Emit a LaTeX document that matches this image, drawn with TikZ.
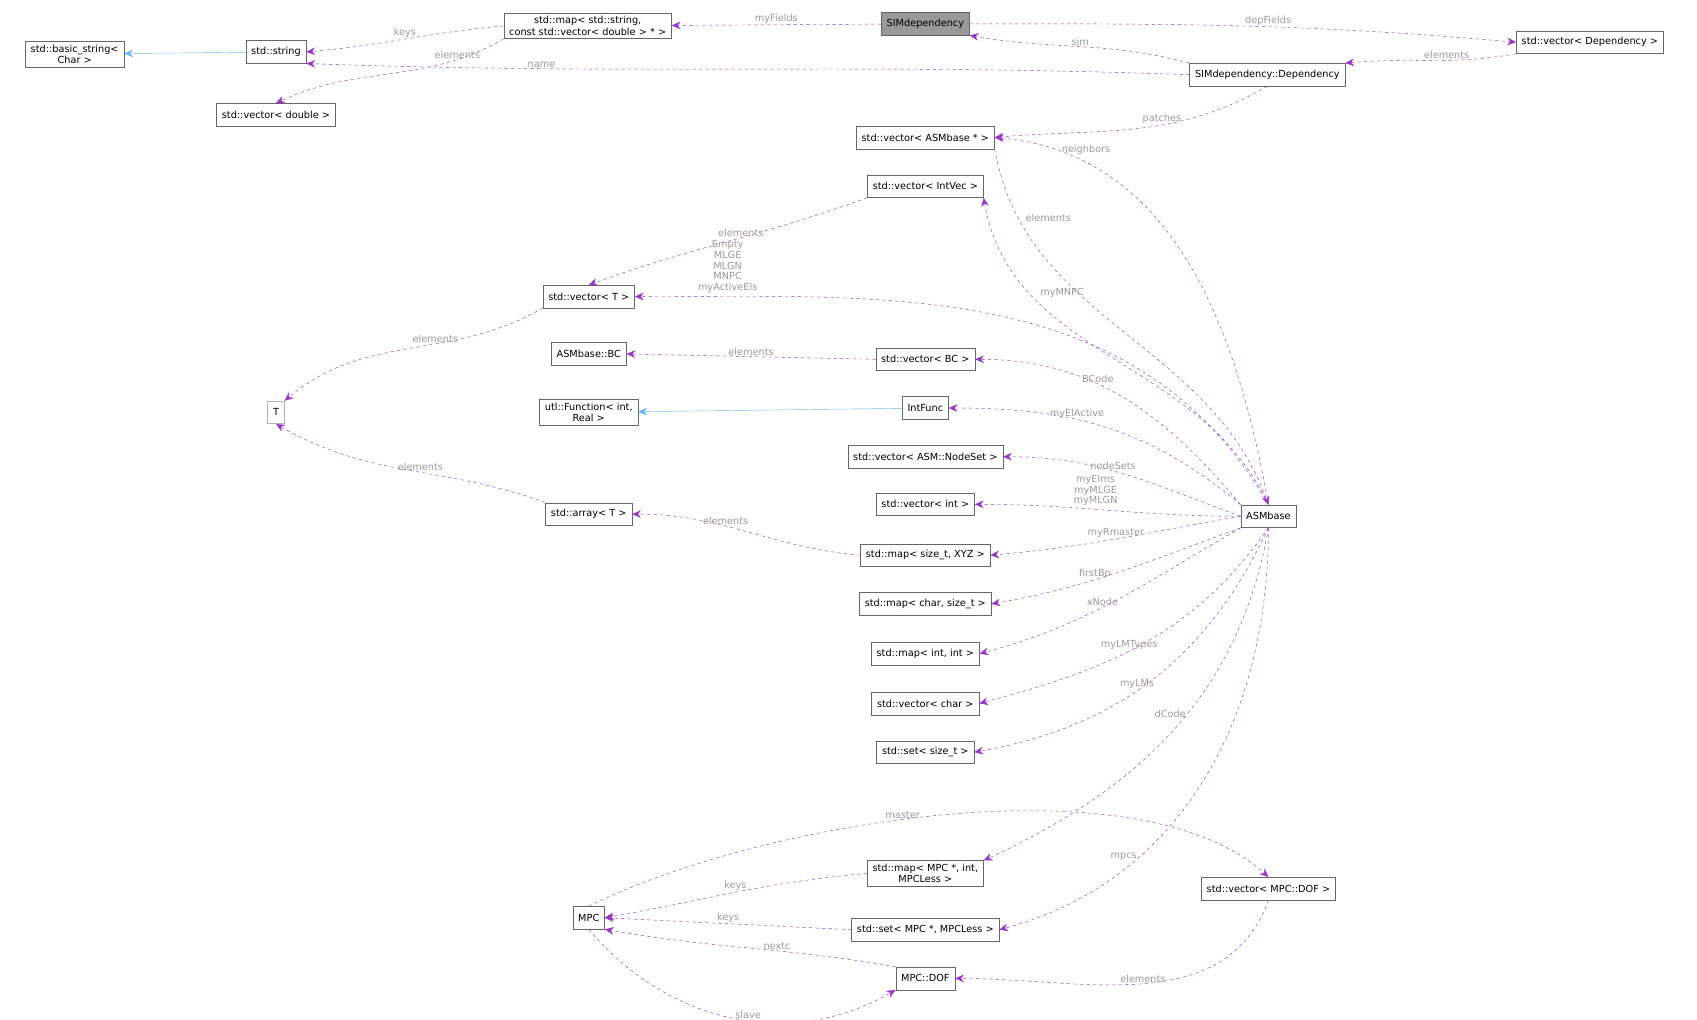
\documentclass[tikz,border=0pt]{standalone}
\usepackage{fontspec}
\setmainfont{DejaVu Sans}
\usetikzlibrary{arrows.meta}
\definecolor{edgepurple}{HTML}{9A32CD}
\definecolor{lblgray}{HTML}{9A9A9A}
\definecolor{inhblue}{HTML}{63B8FF}
\tikzset{
  cls/.style={rectangle, draw=black!60, fill=white, font=\fontsize{9}{10.5}\selectfont, inner xsep=5pt, inner ysep=3pt, minimum height=21pt, align=center},
  uses/.style={draw=edgepurple, dashed, -{Stealth[length=8pt,width=7pt]}},
  inh/.style={draw=inhblue, -{Stealth[length=8pt,width=7pt,open,fill=inhblue]}},
  lbl/.style={text=lblgray, font=\fontsize{9}{10}\selectfont, align=center, inner sep=1pt}
}
\begin{document}
\begin{tikzpicture}[x=1pt, y=1pt]
    \useasboundingbox (0,0) rectangle (1568,-942);
    % classes
    \node [cls] (basicstring) at (69,-50) {std::basic\_string\textless\\ Char \textgreater};
    \node [cls] (string) at (255,-48) {std::string};
    \node [cls] (map) at (543,-24) {std::map\textless{} std::string,\\ const std::vector\textless{} double \textgreater{} * \textgreater};
    \node [cls] (vecdouble) at (255,-106) {std::vector\textless{} double \textgreater};
    \node [cls, fill=black!40] (simdep) at (855,-22) {SIMdependency};
    \node [cls] (dependency) at (1171,-69) {SIMdependency::Dependency};
    \node [cls] (vecdep) at (1469,-39) {std::vector\textless{} Dependency \textgreater};
    \node [cls] (vecasm) at (855,-127) {std::vector\textless{} ASMbase * \textgreater};
    \node [cls] (vecintvec) at (855,-172) {std::vector\textless{} IntVec \textgreater};
    \node [cls] (vect) at (544,-274) {std::vector\textless{} T \textgreater};
    \node [cls] (bc) at (544,-327) {ASMbase::BC};
    \node [cls] (vecbc) at (855,-332) {std::vector\textless{} BC \textgreater};
    \node [cls] (func) at (544,-381) {utl::Function\textless{} int,\\ Real \textgreater};
    \node [cls] (intfunc) at (855,-377) {IntFunc};
    \node [cls, draw=black!30] (t) at (255,-381) {T};
    \node [cls] (vecnodeset) at (855,-422) {std::vector\textless{} ASM::NodeSet \textgreater};
    \node [cls] (vecint) at (855,-466) {std::vector\textless{} int \textgreater};
    \node [cls] (array) at (544,-475) {std::array\textless{} T \textgreater};
    \node [cls] (mapxyz) at (855,-513) {std::map\textless{} size\_t, XYZ \textgreater};
    \node [cls] (asmbase) at (1172,-477) {ASMbase};
    \node [cls] (mapchar) at (855,-558) {std::map\textless{} char, size\_t \textgreater};
    \node [cls] (mapint) at (855,-604) {std::map\textless{} int, int \textgreater};
    \node [cls] (vecchar) at (855,-650) {std::vector\textless{} char \textgreater};
    \node [cls] (setsize) at (855,-695) {std::set\textless{} size\_t \textgreater};
    \node [cls] (mapmpc) at (855,-807) {std::map\textless{} MPC *, int,\\ MPCLess \textgreater};
    \node [cls] (vecdof) at (1172,-821) {std::vector\textless{} MPC::DOF \textgreater};
    \node [cls] (mpc) at (544,-848) {MPC};
    \node [cls] (setmpc) at (855,-859) {std::set\textless{} MPC *, MPCLess \textgreater};
    \node [cls] (dof) at (855,-904) {MPC::DOF};

    % inheritance
    \draw [inh] (string) -- (basicstring);
    \draw [inh] (intfunc) -- (func);

    % upper part
    \draw [uses] (simdep) -- node [lbl, above] {myFields} (map);
    \draw [uses] (simdep.east) to[out=0, in=175] node [lbl, above, pos=0.55] {depFields} (vecdep.west);
    \draw [uses] (vecdep.south west) to[out=-170, in=5] node [lbl, above, pos=0.4] {elements} (dependency.north east);
    \draw [uses] (dependency.north west) to[out=165, in=-10] node [lbl, above] {sim} (simdep.south east);
    \draw [uses] (dependency.west) to[out=178, in=-2] node [lbl, above, pos=0.75] {name} (string.south east);
    \draw [uses] (dependency.south) to[out=-150, in=5] node [lbl, above, pos=0.4] {patches} (vecasm.east);
    \draw [uses] (map.west) to[out=185, in=5] node [lbl, above] {keys} (string.east);
    \draw [uses] (map.south west) to[out=-150, in=25] node [lbl, above, pos=0.2] {elements} (vecdouble.north);

    % ASMbase members
    \draw [uses] (asmbase.north) to[out=100, in=-5] node [lbl, pos=0.88, right=6pt] {neighbors} (vecasm.east);
    \draw [uses] (vecasm.south east) to[out=-80, in=110] node [lbl, pos=0.15, right=6pt] {elements} (asmbase.north);
    \draw [uses] (asmbase.north) to[out=115, in=-80] node [lbl, pos=0.75, right=8pt] {myMNPC} (vecintvec.south east);
    \draw [uses] (vecintvec.south west) to[out=-160, in=20] node [lbl, above, pos=0.45] {elements} (vect.north);
    \draw [uses] (asmbase.north) to[out=120, in=0] node [lbl, pos=0.88, above=2pt] {Empty\\MLGE\\MLGN\\MNPC\\myActiveEls} (vect.east);
    \draw [uses] (vect.south west) to[out=-150, in=40] node [lbl, above, pos=0.4] {elements} (t.north east);
    \draw [uses] (vecbc.west) -- node [lbl, above] {elements} (bc.east);
    \draw [uses] (asmbase.north west) to[out=130, in=0] node [lbl, above, pos=0.6] {BCode} (vecbc.east);
    \draw [uses] (asmbase.north west) to[out=140, in=0] node [lbl, above, pos=0.6] {myElActive} (intfunc.east);
    \draw [uses] (asmbase.west) to[out=160, in=0] node [lbl, above, pos=0.55] {nodeSets} (vecnodeset.east);
    \draw [uses] (asmbase.west) to[out=180, in=0] node [lbl, above=2pt, pos=0.55] {myElms\\myMLGE\\myMLGN} (vecint.east);
    \draw [uses] (array.north west) to[out=160, in=-30] node [lbl, above, pos=0.45] {elements} (t.south);
    \draw [uses] (mapxyz.west) to[out=175, in=0] node [lbl, above, pos=0.6] {elements} (array.east);
    \draw [uses] (asmbase.west) to[out=190, in=5] node [lbl, above, pos=0.5] {myRmaster} (mapxyz.east);
    \draw [uses] (asmbase.south west) to[out=200, in=10] node [lbl, above, pos=0.6] {firstBp} (mapchar.east);
    \draw [uses] (asmbase.south west) to[out=210, in=15] node [lbl, above, pos=0.55] {xNode} (mapint.east);
    \draw [uses] (asmbase.south) to[out=235, in=15] node [lbl, above, pos=0.55] {myLMTypes} (vecchar.east);
    \draw [uses] (asmbase.south) to[out=245, in=10] node [lbl, above, pos=0.55] {myLMs} (setsize.east);
    \draw [uses] (asmbase.south) to[out=260, in=25] node [lbl, left, pos=0.45] {dCode} (mapmpc.north east);
    \draw [uses] (asmbase.south) to[out=270, in=15] node [lbl, left, pos=0.7] {mpcs} (setmpc.east);

    % MPC part
    \draw [uses] (mpc.north) .. controls (700,-760) and (1050,-700) .. node [lbl, above, pos=0.45] {master} (vecdof.north);
    \draw [uses] (mapmpc.west) to[out=185, in=10] node [lbl, above] {keys} (mpc.east);
    \draw [uses] (setmpc.west) -- node [lbl, above] {keys} (mpc.east);
    \draw [uses] (dof.north west) to[out=170, in=-10] node [lbl, above, pos=0.4] {nextc} (mpc.south east);
    \draw [uses] (mpc.south) to[out=-50, in=-150] node [lbl, above, pos=0.55] {slave} (dof.south west);
    \draw [uses] (vecdof.south) to[out=-110, in=0] node [lbl, above, pos=0.5] {elements} (dof.east);
\end{tikzpicture}
\end{document}
